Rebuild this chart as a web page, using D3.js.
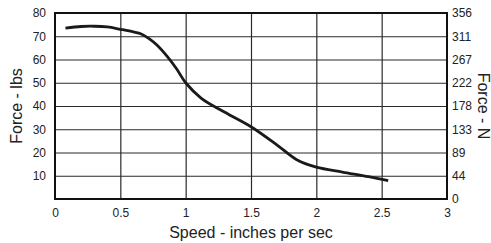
<!DOCTYPE html>
<html>
<head>
<meta charset="utf-8">
<script src="https://cdn.jsdelivr.net/npm/d3@7"></script>
<style>
  body { margin: 0; background: #fff; }
  text { font-family: "Liberation Sans", Arial, sans-serif; fill: #222; }
</style>
</head>
<body>
<div class="chart"></div>
<script>
const W = 491, H = 243;
const M = {left: 55, right: 44, top: 13, bottom: 44};

// curve
const speed = [0.08, 0.2, 0.3, 0.4, 0.5, 0.6, 0.66, 0.72, 0.78, 0.86, 0.93, 1.0, 1.12, 1.3, 1.5, 1.7, 1.85, 2.0, 2.2, 2.4, 2.55];
const force = [73.5, 74.2, 74.3, 74.0, 73.0, 71.9, 71.0, 69.0, 66.2, 61.2, 56.0, 50.0, 43.3, 37.3, 31.1, 23.2, 16.9, 13.7, 11.6, 9.6, 7.9];

const xTicks = [0, 0.5, 1, 1.5, 2, 2.5, 3];
const yTicks = [10, 20, 30, 40, 50, 60, 70, 80];
const yTicksN = [0, 10, 20, 30, 40, 50, 60, 70, 80];
const nLabels = ["0", "44", "89", "133", "178", "222", "267", "311", "356"];

var svg = d3.select('.chart').append('svg')
    .attr('width', W)
    .attr('height', H);

var x = d3.scaleLinear().domain([0, 3]).range([M.left, W - M.right]);
var y = d3.scaleLinear().domain([0, 80]).range([H - M.bottom, M.top]);

// grid via axes with full-length ticks
var xGrid = d3.axisBottom(x).tickValues(xTicks.slice(1, -1)).tickSize(-(y(0) - y(80))).tickFormat("");
var yGrid = d3.axisLeft(y).tickValues(yTicks.slice(0, -1)).tickSize(-(x(3) - x(0))).tickFormat("");

svg.append("g").attr("transform", "translate(0," + y(0) + ")").call(xGrid)
    .call(g => g.select(".domain").remove())
    .selectAll("line").attr("stroke", "#2a2a2a").attr("stroke-width", 1.2);
svg.append("g").attr("transform", "translate(" + x(0) + ",0)").call(yGrid)
    .call(g => g.select(".domain").remove())
    .selectAll("line").attr("stroke", "#2a2a2a").attr("stroke-width", 1.2);

// frame
svg.append("rect")
    .attr("x", x(0)).attr("y", y(80))
    .attr("width", x(3) - x(0)).attr("height", y(0) - y(80))
    .attr("fill", "none").attr("stroke", "#111").attr("stroke-width", 2);

// axes (labels only)
var bottomAxis = d3.axisBottom(x).tickValues(xTicks).tickSize(0).tickPadding(9)
    .tickFormat(d3.format(""));
var leftAxis = d3.axisLeft(y).tickValues(yTicks).tickSize(0).tickPadding(9);
var rightAxis = d3.axisRight(y).tickValues(yTicksN).tickSize(0).tickPadding(5)
    .tickFormat((d, i) => nLabels[i]);

function styleAxis(g) {
	g.select(".domain").remove();
	g.selectAll(".tick line").remove();
	g.selectAll("text").style("font-size", "12px").style("fill", "#222")
		.style("font-family", '"Liberation Sans", Arial, sans-serif');
}

svg.append("g").attr("transform", "translate(0," + y(0) + ")").call(bottomAxis).call(styleAxis);
svg.append("g").attr("transform", "translate(" + x(0) + ",0)").call(leftAxis).call(styleAxis);
svg.append("g").attr("transform", "translate(" + x(3) + ",0)").call(rightAxis).call(styleAxis);

// line
var pts = speed.map((s, i) => ({s: s, f: force[i]}));
var line = d3.line().x(d => x(d.s)).y(d => y(d.f)).curve(d3.curveCatmullRom.alpha(0.5));
svg.append("path")
    .datum(pts)
    .attr("d", line)
    .attr("fill", "none")
    .attr("stroke", "#1a1a1a")
    .attr("stroke-width", 2.8)
    .attr("stroke-linejoin", "round");

// titles
var midY = (y(0) + y(80)) / 2;
svg.append("text")
    .attr("transform", "translate(22," + midY + ") rotate(-90)")
    .attr("text-anchor", "middle")
    .style("font-size", "16px")
    .text("Force - lbs");
svg.append("text")
    .attr("transform", "translate(478," + midY + ") rotate(90)")
    .attr("text-anchor", "middle")
    .style("font-size", "16px")
    .text("Force - N");
svg.append("text")
    .attr("x", x(1.5)).attr("y", 238)
    .attr("text-anchor", "middle")
    .style("font-size", "16px")
    .text("Speed - inches per sec");
</script>
</body>
</html>
